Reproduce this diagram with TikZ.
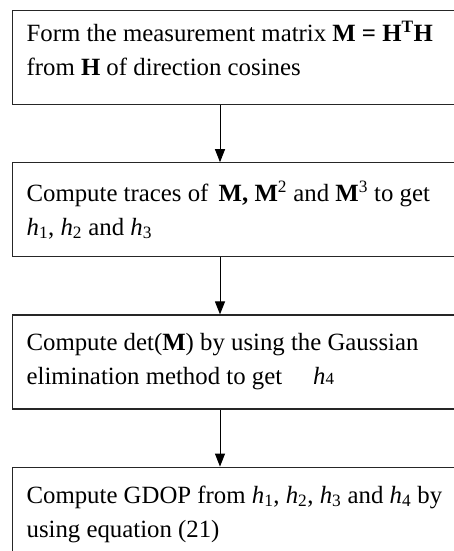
\documentclass[tikz,border=0pt]{standalone}
\usepackage{fontspec}
\setmainfont{Liberation Serif}
\usetikzlibrary{
    arrows.meta,
    calc,
    positioning
}
\tikzset{
    every picture/.style = {
        > = {Triangle[length = 13pt, width = 10pt]},
        line width = 1pt
    },
    procbox/.style = {
        draw = black!85,
        line width = 1.2pt,
        minimum width = 460pt,
        minimum height = 94pt,
        text width = 431pt,
        inner xsep = 14.5pt,
        align = flush left,
        font = \fontsize{24.8}{34}\selectfont,
        anchor = north west
    },
    flow/.style = {
        ->,
        draw = black,
        line width = 1pt
    }
}
\newcommand{\hsub}[1]{\textit{h}\textsubscript{#1}}

\begin{document}
\begin{tikzpicture}[x = 1pt, y = -1pt]

    \useasboundingbox (0, 0) rectangle (454, 551);

    \node[procbox] (form) at (11.5, 10) {Form the measurement matrix \textbf{M = H\textsuperscript{T}H}\\
        from \textbf{H} of direction cosines\rule[-19pt]{0pt}{19pt}};

    \node[procbox, below = 57pt of form] (traces) {Compute traces of \,\textbf{M,} \textbf{M}\textsuperscript{2} and \textbf{M}\textsuperscript{3} to get\\
        \hsub{1}, \hsub{2} and \hsub{3}};

    \node[procbox, below = 57pt of traces] (det) {Compute det(\textbf{M}) by using the Gaussian\\
        elimination method to get \quad\textit{h}{\fontsize{17}{17}\selectfont 4}};

    \node[procbox, below = 57pt of det] (gdop) {Compute GDOP from \hsub{1}, \hsub{2}, \hsub{3} and \hsub{4} by\\
        using equation (21)};

    \draw[flow] ([xshift = 208.5pt]form.south west) -- ([xshift = 208.5pt]traces.north west);
    \draw[flow] ([xshift = 208.5pt]traces.south west) -- ([xshift = 208.5pt]det.north west);
    \draw[flow] ([xshift = 208.5pt]det.south west) -- ([xshift = 208.5pt]gdop.north west);

\end{tikzpicture}
\end{document}
